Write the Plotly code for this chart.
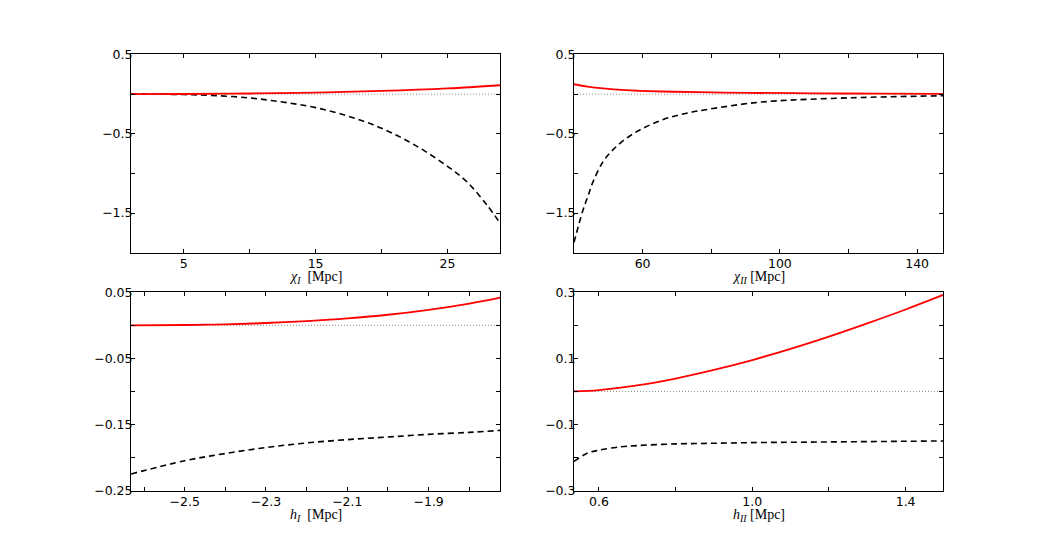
import plotly.graph_objects as go

# ---------------- data ----------------
# Panel 1: chi_I
chi1_x = [1, 3, 5, 7, 10, 12.5, 15, 17.5, 20, 22.5, 25, 26.5, 28, 29]
chi1_dash = [0, -0.001, -0.005, -0.015, -0.048, -0.10, -0.17, -0.28, -0.43, -0.64, -0.91, -1.11, -1.40, -1.63]
chi1_red_x = [1, 5, 10, 15, 20, 25, 29]
chi1_red = [0, 0.002, 0.008, 0.02, 0.04, 0.072, 0.112]

# Panel 2: chi_II
chi2_x = [40, 42.5, 44.2, 45.6, 48.5, 51.4, 55.3, 59.7, 66, 72.8, 79.3, 91.2, 99.1, 121.4, 147.6]
chi2_dash = [-1.87, -1.48, -1.27, -1.10, -0.85, -0.70, -0.555, -0.44, -0.32, -0.24, -0.19, -0.115, -0.085, -0.045, -0.02]
chi2_red_x = [40, 44, 48.5, 55, 59, 69, 80, 91, 110, 130, 147.6]
chi2_red = [0.125, 0.095, 0.072, 0.05, 0.042, 0.03, 0.022, 0.016, 0.01, 0.006, 0.004]

# Panel 3: h_I
h1_x = [-2.632, -2.5, -2.4, -2.3, -2.2, -2.1, -2.0, -1.9, -1.8, -1.724]
h1_red = [0, 0.0005, 0.0015, 0.0035, 0.0065, 0.0105, 0.016, 0.0235, 0.033, 0.042]
h1_dash = [-0.225, -0.205, -0.194, -0.185, -0.178, -0.173, -0.169, -0.165, -0.162, -0.159]

# Panel 4: h_II
h2_dash_x = [0.535, 0.568, 0.6, 0.655, 0.7, 0.8, 0.9, 1.0, 1.1, 1.2, 1.3, 1.4, 1.498]
h2_dash = [-0.212, -0.188, -0.178, -0.168, -0.164, -0.159, -0.157, -0.155, -0.154, -0.153, -0.152, -0.151, -0.150]
h2_red_x = [0.535, 0.6, 0.7, 0.8, 0.9, 1.0, 1.1, 1.2, 1.3, 1.4, 1.498]
h2_red = [0.0, 0.004, 0.018, 0.039, 0.065, 0.095, 0.129, 0.166, 0.206, 0.248, 0.292]

# axis ranges
x1_range = [1, 29]
x2_range = [40, 147.6]
x3_range = [-2.632, -1.724]
x4_range = [0.535, 1.498]
y12_range = [-2.0, 0.5]
y3_range = [-0.25, 0.05]
y4_range = [-0.3, 0.3]

# ticks: (first labelled tick, labelled step, minor step, format)
x1_ticks = (5, 10, 5, "")
x2_ticks = (60, 40, 20, "")
x3_ticks = (-2.5, 0.2, 0.1, ".1f")
x4_ticks = (0.6, 0.4, 0.2, ".1f")
y12_ticks = (0.5, 1.0, 0.5, ".1f")
y3_ticks = (0.05, 0.1, 0.05, ".2f")
y4_ticks = (0.3, 0.2, 0.1, ".1f")

xlabels = [
    "<i>χ</i><sub><i>I</i></sub>&nbsp; [Mpc]",
    "<i>χ</i><sub><i>II</i></sub>&nbsp;[Mpc]",
    "<i>h</i><sub><i>I</i></sub>&nbsp; [Mpc]",
    "<i>h</i><sub><i>II</i></sub>&nbsp;[Mpc]",
]

# ---------------- figure ----------------
fig = go.Figure()

panels = [
    ("x", "y", x1_range, chi1_x, chi1_dash, chi1_red_x, chi1_red),
    ("x2", "y2", x2_range, chi2_x, chi2_dash, chi2_red_x, chi2_red),
    ("x3", "y3", x3_range, h1_x, h1_dash, h1_x, h1_red),
    ("x4", "y4", x4_range, h2_dash_x, h2_dash, h2_red_x, h2_red),
]

for xa, ya, xr, dx, dy, rx, ry in panels:
    fig.add_trace(go.Scatter(x=xr, y=[0, 0], xaxis=xa, yaxis=ya, mode="lines",
                             line=dict(color="#888888", width=1, dash="1px,2px"),
                             showlegend=False, hoverinfo="skip"))
    fig.add_trace(go.Scatter(x=dx, y=dy, xaxis=xa, yaxis=ya, mode="lines",
                             line=dict(color="black", width=1.6, dash="6px,4px", shape="spline"),
                             showlegend=False))
    fig.add_trace(go.Scatter(x=rx, y=ry, xaxis=xa, yaxis=ya, mode="lines",
                             line=dict(color="#ff0000", width=1.8, shape="spline"),
                             showlegend=False))

# The page body has an 8px margin; the figure is 1032x529 so the page is exactly 1048x545.
xdom_l = [0.11919, 0.47694]
xdom_r = [0.54845, 0.90620]
ydom_t = [0.53743, 0.91210]
ydom_b = [0.08790, 0.46257]

tickfont = dict(family="DejaVu Sans", size=12.5, color="black")


def ax(domain, rng, tk, anchor, letter):
    t0, dt, mdt, fmt = tk
    return dict(domain=domain, range=rng, anchor=anchor,
                tickmode="linear", tick0=t0, dtick=dt, tickformat=fmt,
                ticks="inside", ticklen=4, tickwidth=1, tickcolor="black",
                minor=dict(tickmode="linear", tick0=t0, dtick=mdt, ticks="inside",
                           ticklen=4, tickwidth=1, tickcolor="black", showgrid=False),
                showline=True, linecolor="black", linewidth=1, mirror="ticks",
                showgrid=False, zeroline=False, tickfont=tickfont, automargin=False,
                ticklabelstandoff=(-1 if letter == "x" else -5))


fig.update_layout(
    template="none",
    width=1032, height=529,
    margin=dict(l=0, r=0, t=0, b=0, pad=0),
    paper_bgcolor="white", plot_bgcolor="white",
    xaxis=ax(xdom_l, x1_range, x1_ticks, "y", "x"),
    yaxis=ax(ydom_t, y12_range, y12_ticks, "x", "y"),
    xaxis2=ax(xdom_r, x2_range, x2_ticks, "y2", "x"),
    yaxis2=ax(ydom_t, y12_range, y12_ticks, "x2", "y"),
    xaxis3=ax(xdom_l, x3_range, x3_ticks, "y3", "x"),
    yaxis3=ax(ydom_b, y3_range, y3_ticks, "x3", "y"),
    xaxis4=ax(xdom_r, x4_range, x4_ticks, "y4", "x"),
    yaxis4=ax(ydom_b, y4_range, y4_ticks, "x4", "y"),
)

for i, lab in enumerate(xlabels):
    sfx = "" if i == 0 else str(i + 1)
    fig.add_annotation(text=lab, xref="x%s domain" % sfx, yref="y%s domain" % sfx,
                       x=0.5, y=0, yshift=-25, xanchor="center", yanchor="middle",
                       showarrow=False,
                       font=dict(family="Liberation Serif", size=14, color="black"))

fig.write_html("out.html")
